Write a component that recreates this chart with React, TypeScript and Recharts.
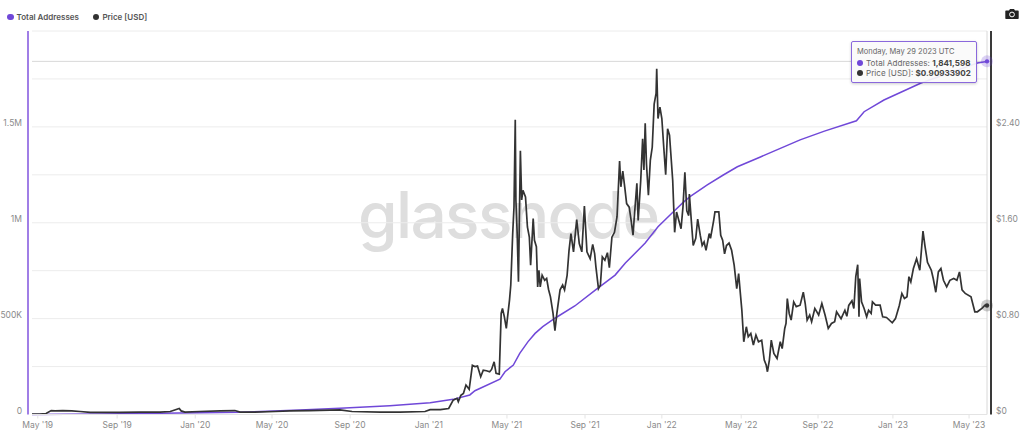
import React from "react";
import { LineChart, Line, XAxis, YAxis, CartesianGrid, ReferenceLine, ReferenceDot, Legend } from "recharts";

const PURPLE = "#7048d8";
const DARK = "#333333";

// x positions are days since the start of the series
const tickDays = [9, 133, 255, 375, 497, 620, 742, 864, 984, 1108, 1228, 1345, 1464];
const tickLabels = ["May '19", "Sep '19", "Jan '20", "May '20", "Sep '20", "Jan '21", "May '21", "Sep '21", "Jan '22", "May '22", "Sep '22", "Jan '23", "May '23"];

const priceDays = [
  0, 12, 22, 30, 36, 48, 62, 75, 91, 106, 137, 169, 200, 216, 223, 230, 233, 239, 262, 294, 317, 325, 348, 380, 403, 434, 481, 500, 544, 575, 614,
  622, 638, 651, 658, 664, 666, 670, 674, 678, 680, 683, 688, 692, 696, 701, 705, 710, 715, 718, 722, 725, 730, 733, 735, 738, 741, 743, 746, 748, 751, 753, 755, 756, 758, 760, 763, 765, 767, 771, 774, 777, 779, 783, 785, 788, 790, 792, 794, 797, 801, 804, 807, 810, 814, 817, 820,
  825, 829, 832, 836, 839, 842, 846, 851, 855, 859, 863, 867, 872, 876, 879, 881, 885, 888, 891, 895, 899, 902, 906, 910, 914, 918, 920, 923, 926, 929, 933, 936, 939, 941, 945, 947, 951, 954, 956, 958, 960, 963, 966, 969, 972, 975, 976, 978, 981, 984, 987, 990, 993, 996, 998, 1001, 1004, 1007,
  1014, 1017, 1020, 1023, 1026, 1027, 1030, 1033, 1037, 1040, 1044, 1047, 1050, 1053, 1058, 1060, 1065, 1067, 1073, 1076, 1079, 1082, 1085, 1089, 1093, 1097, 1101, 1104, 1106, 1109, 1112, 1116, 1119, 1123, 1127, 1131, 1135, 1140, 1144, 1147, 1149, 1152, 1155, 1159, 1164, 1169, 1172, 1176, 1178, 1180, 1183, 1186, 1190, 1194, 1200, 1205, 1208, 1211, 1215, 1218, 1223, 1229, 1234, 1239,
  1244, 1249, 1254, 1257, 1264, 1270, 1273, 1276, 1281, 1284, 1287, 1290, 1292, 1293, 1296, 1300, 1304, 1307, 1311, 1313, 1318, 1325, 1329, 1335, 1344, 1349, 1355, 1359, 1363, 1367, 1370, 1373, 1377, 1382, 1387, 1392, 1395, 1399, 1405, 1408, 1412, 1416, 1420, 1424, 1429, 1434, 1440, 1445, 1449, 1453, 1458, 1467, 1473, 1477, 1484, 1489, 1492,
];
const priceValues = [
  0.004, 0.004, 0.008, 0.033, 0.03, 0.033, 0.03, 0.025, 0.017, 0.017, 0.017, 0.02, 0.02, 0.025, 0.038, 0.05, 0.03, 0.02, 0.025, 0.03, 0.033, 0.02, 0.02, 0.025, 0.03, 0.033, 0.038, 0.025, 0.02, 0.02, 0.025,
  0.04, 0.04, 0.05, 0.12, 0.135, 0.107, 0.16, 0.176, 0.246, 0.232, 0.21, 0.41, 0.4, 0.404, 0.315, 0.37, 0.365, 0.357, 0.376, 0.44, 0.343, 0.337, 0.843, 0.885, 0.815, 0.718, 0.815, 0.954, 1.08, 1.51, 1.73, 2.46, 1.79, 1.51, 1.107, 2.2, 1.79, 1.87, 1.815, 1.565, 1.48, 1.246, 1.635, 1.454, 1.4, 1.065, 1.204, 1.065, 1.163, 1.12, 1.135, 1.043, 0.982, 0.843, 0.7, 0.843,
  1.04, 1.08, 1.04, 1.16, 1.37, 1.51, 1.357, 1.626, 1.426, 1.357, 1.74, 1.357, 1.3, 1.42, 1.343, 1.232, 1.05, 1.08, 1.315, 1.287, 1.35, 1.226, 1.48, 1.52, 1.65, 2.115, 1.9, 2.03, 1.9, 1.76, 1.73, 1.62, 1.496, 1.65, 1.93, 1.62, 1.95, 2.3, 2.04, 2.43, 2.09, 1.83, 2.12, 2.23, 2.59, 2.68, 2.885, 2.47, 2.565, 2.47, 2.23, 2.0, 2.385, 2.33, 2.18, 1.95, 1.52, 1.69,
  1.55, 1.73, 2.02, 1.7, 1.66, 1.84, 1.62, 1.41, 1.47, 1.63, 1.496, 1.41, 1.44, 1.37, 1.51, 1.47, 1.62, 1.69, 1.69, 1.496, 1.454, 1.34, 1.41, 1.43, 1.37, 1.246, 1.05, 1.176, 1.05, 0.87, 0.607, 0.732, 0.649, 0.676, 0.58, 0.663, 0.607, 0.62, 0.454, 0.413, 0.357, 0.454, 0.62, 0.51, 0.468, 0.607, 0.55, 0.718, 0.76, 0.968, 0.843, 0.788, 0.94, 0.9, 0.912, 1.02, 0.926, 0.788, 0.83, 0.774, 0.885, 0.83, 0.926, 0.83,
  0.718, 0.76, 0.774, 0.857, 0.8, 0.87, 0.82, 0.91, 0.949, 0.885, 1.15, 1.25, 0.815, 1.135, 0.94, 0.885, 0.815, 0.87, 0.843, 0.94, 0.912, 0.912, 0.815, 0.81, 0.765, 0.8, 0.91, 1.01, 0.968, 0.982, 1.15, 1.107, 1.218, 1.3, 1.204, 1.53, 1.41, 1.27, 1.204, 1.135, 1.02, 1.19, 1.218, 1.12, 1.065, 1.12, 1.135, 1.12, 1.19, 1.04, 1.01, 0.982, 0.857, 0.857, 0.885, 0.912, 0.90933902,
];

const addressDays = [0, 106, 231, 325, 388, 419, 481, 559, 622, 658, 684, 692, 731, 739, 752, 762, 775, 786, 798, 817, 848, 880, 911, 927, 958, 978, 1000, 1017, 1028, 1055, 1080, 1102, 1138, 1200, 1238, 1288, 1300, 1331, 1389, 1477, 1492];
const addressValues = [0, 3000, 8000, 12000, 19000, 23000, 32000, 46000, 61500, 79000, 102000, 124000, 184000, 223000, 258000, 319000, 380000, 423000, 458000, 502000, 566000, 649000, 727000, 790000, 894000, 979000, 1051000, 1105000, 1136000, 1197000, 1249000, 1292000, 1343000, 1432000, 1478000, 1532000, 1579000, 1640000, 1729000, 1833000, 1841598];

const leftTicks = [0, 500000, 1000000, 1500000, 2000000];
const leftLabels = ["0", "500K", "1M", "1.5M", ""];
const rightTicks = [0, 0.4, 0.8, 1.2, 1.6, 2.0, 2.4, 2.8, 3.2];
const rightLabels = ["$0", "", "$0.80", "", "$1.60", "", "$2.40", "", ""];

const priceData = priceDays.map((day, i) => ({ day, price: priceValues[i] }));
const addressData = addressDays.map((day, i) => ({ day, total: addressValues[i] }));
const lastDay = priceDays[priceDays.length - 1];
const lastPrice = priceValues[priceValues.length - 1];
const lastTotal = addressValues[addressValues.length - 1];

const FONT = "Inter, sans-serif";
const labelStyle = { fontFamily: FONT, fontSize: 8.5, fill: "#8a8a8a" };

const LeftTick = ({ x, y, payload }: any) => (
  <text x={x - 2} y={y - 4} dy={3} textAnchor="end" {...labelStyle}>
    {leftLabels[leftTicks.indexOf(payload.value)]}
  </text>
);
const RightTick = ({ x, y, payload }: any) => (
  <text x={x + 1} y={y - 4} dy={3} textAnchor="start" {...labelStyle}>
    {rightLabels[rightTicks.indexOf(payload.value)]}
  </text>
);
const BottomTick = ({ x, y, payload }: any) => (
  <text x={x} y={y + 7} textAnchor="middle" {...labelStyle}>
    {tickLabels[tickDays.indexOf(payload.value)]}
  </text>
);

const LegendContent = () => (
  <div style={{ display: "flex", height: 0, fontFamily: FONT, fontSize: 8, fontWeight: 600, color: "#555", lineHeight: "10px" }}>
    <span style={{ width: 6.5, height: 6.5, borderRadius: 4, background: PURPLE, margin: "1.5px 3px 0 0" }} />
    <span style={{ marginRight: 14 }}>Total Addresses</span>
    <span style={{ width: 6.5, height: 6.5, borderRadius: 4, background: DARK, margin: "1.5px 3px 0 0" }} />
    <span>Price [USD]</span>
  </div>
);

export default function App() {
  return (
    <div style={{ position: "absolute", left: 0, top: 0, width: 1024, height: 431, background: "#fff", overflow: "hidden" }}>
      <svg width={1024} height={431} style={{ position: "absolute", left: 0, top: 0 }}>
        <text x={358} y={238} textLength={302} lengthAdjust="spacing" style={{ fontFamily: FONT, fontSize: 64, fontWeight: 500, fill: "#dedede" }}>
          glassnode
        </text>
      </svg>
      <div style={{ position: "absolute", left: 0, top: 0 }}>
        <LineChart width={1024} height={431} margin={{ top: 31, right: 0, bottom: 0, left: 0 }}>
          <CartesianGrid horizontal vertical={false} yAxisId="price" stroke="#ececec" strokeWidth={1} />
          <XAxis
            dataKey="day"
            type="number"
            domain={[0, lastDay]}
            ticks={tickDays}
            interval={0}
            height={16.5}
            tick={<BottomTick />}
            tickSize={4}
            tickLine={{ stroke: "#e4e4e4" }}
            axisLine={{ stroke: "#e4e4e4" }}
            allowDataOverflow
          />
          <YAxis yAxisId="total" orientation="left" width={32} domain={[0, 2000000]} ticks={leftTicks} interval={0} tick={<LeftTick />} tickLine={false} axisLine={false} />
          <YAxis yAxisId="price" orientation="right" width={37} domain={[0, 3.2]} ticks={rightTicks} interval={0} tick={<RightTick />} tickLine={false} axisLine={false} />
          <ReferenceLine yAxisId="total" y={lastTotal} stroke="#d8d8d8" strokeWidth={1} />
          <ReferenceLine yAxisId="total" x={lastDay} stroke="#d8d8d8" strokeWidth={1} />
          <ReferenceLine yAxisId="total" x={-6.25} ifOverflow="visible" stroke="#a07ee6" strokeWidth={2} />
          <ReferenceLine yAxisId="total" x={lastDay + 6.25} ifOverflow="visible" stroke="#3a3a3a" strokeWidth={2} />
          <Line yAxisId="total" data={addressData} dataKey="total" name="Total Addresses" type="linear" stroke={PURPLE} strokeWidth={1.5} dot={false} activeDot={false} isAnimationActive={false} />
          <Line yAxisId="price" data={priceData} dataKey="price" name="Price [USD]" type="linear" stroke={DARK} strokeWidth={1.7} dot={false} activeDot={false} isAnimationActive={false} />
          <ReferenceDot yAxisId="total" x={lastDay} y={lastTotal} r={6} fill={PURPLE} fillOpacity={0.25} stroke="none" ifOverflow="visible" />
          <ReferenceDot yAxisId="total" x={lastDay} y={lastTotal} r={2.2} fill={PURPLE} stroke="none" ifOverflow="visible" />
          <ReferenceDot yAxisId="price" x={lastDay} y={lastPrice} r={6} fill={DARK} fillOpacity={0.25} stroke="none" ifOverflow="visible" />
          <ReferenceDot yAxisId="price" x={lastDay} y={lastPrice} r={2.2} fill={DARK} stroke="none" ifOverflow="visible" />
          <Legend verticalAlign="top" align="left" content={<LegendContent />} wrapperStyle={{ position: "absolute", left: 7, top: 12, width: 200, height: 0 }} />
        </LineChart>
      </div>
      <div
        style={{
          position: "absolute", left: 851, top: 41, width: 124, height: 40, background: "rgba(250,250,250,0.92)",
          border: "1px solid #8a68dc", borderRadius: 2, boxShadow: "0 1px 3px rgba(0,0,0,0.2)", fontFamily: FONT, color: "#666",
          fontSize: 8.1, lineHeight: "10px", padding: 0,
        }}
      >
        <div style={{ position: "absolute", left: 5, top: 5, fontSize: 7.5, whiteSpace: "nowrap" }}>Monday, May 29 2023 UTC</div>
        <div style={{ position: "absolute", left: 5, top: 15.5, whiteSpace: "nowrap", display: "flex", alignItems: "center" }}>
          <span style={{ width: 6, height: 6, borderRadius: 3, background: PURPLE, marginRight: 3 }} />
          Total Addresses:&nbsp;<b style={{ color: "#444" }}>1,841,598</b>
        </div>
        <div style={{ position: "absolute", left: 5, top: 25.5, whiteSpace: "nowrap", display: "flex", alignItems: "center" }}>
          <span style={{ width: 6, height: 6, borderRadius: 3, background: DARK, marginRight: 3 }} />
          Price [USD]:&nbsp;<b style={{ color: "#444" }}>$0.90933902</b>
        </div>
      </div>
      <svg width={14} height={12} viewBox="0 0 14 12" style={{ position: "absolute", left: 1005, top: 8 }}>
        <path d="M1 2.5h3l1-1.5h4l1 1.5h3a.7.7 0 0 1 .7.7v7.1a.7.7 0 0 1-.7.7H1a.7.7 0 0 1-.7-.7V3.2A.7.7 0 0 1 1 2.5z" fill="#222" />
        <circle cx={7} cy={6.5} r={2.4} fill="none" stroke="#fff" strokeWidth={1} />
      </svg>
    </div>
  );
}
